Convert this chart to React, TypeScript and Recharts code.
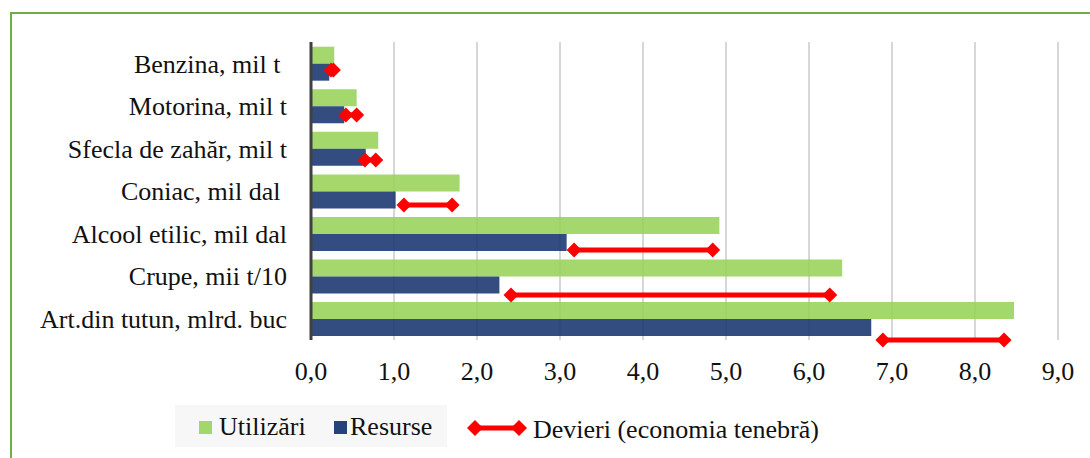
import { ComposedChart, Bar, Scatter, XAxis, YAxis, CartesianGrid } from 'recharts';

const CATEGORIES = [
  'Benzina, mil t\u00a0',
  'Motorina, mil t',
  'Sfecla de zahăr, mil t',
  'Coniac, mil dal\u00a0',
  'Alcool etilic, mil dal',
  'Crupe, mii t/10',
  'Art.din tutun, mlrd. buc',
];
const UTILIZARI = [0.28, 0.55, 0.81, 1.79, 4.92, 6.4, 8.47];
const RESURSE = [0.22, 0.4, 0.66, 1.02, 3.08, 2.27, 6.75];
const DEV_START = [0.24, 0.42, 0.65, 1.12, 3.17, 2.41, 6.89];
const DEV_END = [0.27, 0.55, 0.78, 1.7, 4.84, 6.25, 8.35];
const DEV_POS = [6, 5, 4, 3, 2, 1, 0];
const X_TICKS = [0, 1, 2, 3, 4, 5, 6, 7, 8, 9];

const GREEN = '#97d258';
const BLUE = '#1d3a73';
const RED = '#ff0000';
const FONT = '"Liberation Serif", "Times New Roman", serif';

const rows = CATEGORIES.map((name, i) => ({ name, utilizari: UTILIZARI[i], resurse: RESURSE[i] }));
const segments = CATEGORIES.map((_, i) => [
  { x: DEV_START[i], y: DEV_POS[i] },
  { x: DEV_END[i], y: DEV_POS[i] },
]);

const Diamond = (props: any) => {
  const { cx, cy } = props;
  const r = 7.5;
  return <polygon points={`${cx - r},${cy} ${cx},${cy - r} ${cx + r},${cy} ${cx},${cy + r}`} fill={RED} />;
};

export default function App() {
  return (
    <div style={{ position: 'absolute', left: 0, top: 0, width: 1090, height: 458, background: '#fff', overflow: 'hidden' }}>
      <div style={{ position: 'absolute', left: 10, top: 12, width: 1100, height: 460, borderTop: '2px solid #70ad47', borderLeft: '2px solid #70ad47' }} />
      <div style={{ position: 'absolute', left: 0, top: 0 }}>
        <ComposedChart width={1090} height={458} data={rows} layout="vertical"
          margin={{ top: 42, right: 32, left: 0, bottom: 68 }} barCategoryGap="11%" barGap={0}>
          <CartesianGrid horizontal={false} stroke="#bdbdbd" strokeWidth={1.2} />
          <XAxis type="number" domain={[0, 9]} ticks={X_TICKS} height={50}
            axisLine={false} tickLine={false} tickMargin={16}
            tickFormatter={(v: number) => v.toFixed(1).replace('.', ',')}
            tick={{ fill: '#111', fontSize: 26, fontFamily: FONT }} />
          <YAxis type="category" dataKey="name" width={311} tickLine={false} tickMargin={18}
            axisLine={{ stroke: '#404040', strokeWidth: 3 }}
            tick={{ fill: '#111', fontSize: 26, fontFamily: FONT }} />
          <XAxis xAxisId="s" type="number" dataKey="x" domain={[0, 9]} hide />
          <YAxis yAxisId="s" type="number" dataKey="y" domain={[0, 6.62]} reversed hide />
          <Bar dataKey="utilizari" fill={GREEN} fillOpacity={0.88} isAnimationActive={false} />
          <Bar dataKey="resurse" fill={BLUE} fillOpacity={0.9} isAnimationActive={false} />
          {segments.map((seg, i) => (
            <Scatter key={i} data={seg} xAxisId="s" yAxisId="s" fill={RED}
              line={{ stroke: RED, strokeWidth: 5 }} shape={Diamond} isAnimationActive={false} />
          ))}
        </ComposedChart>
      </div>
      <div style={{ position: 'absolute', left: 175, top: 405, width: 272, height: 42, background: '#f7f7f7' }} />
      <div style={{ position: 'absolute', left: 199, top: 421, width: 13, height: 13, background: '#a2d76a' }} />
      <div style={{ position: 'absolute', left: 219, top: 411, fontFamily: FONT, fontSize: 26, lineHeight: '32px', color: '#111' }}>Utilizări</div>
      <div style={{ position: 'absolute', left: 334, top: 421, width: 13, height: 13, background: '#25427a' }} />
      <div style={{ position: 'absolute', left: 350, top: 411, fontFamily: FONT, fontSize: 26, lineHeight: '32px', color: '#111' }}>Resurse</div>
      <svg style={{ position: 'absolute', left: 466, top: 418 }} width={62} height={20}>
        <line x1={9} y1={10} x2={53} y2={10} stroke={RED} strokeWidth={5} />
        <polygon points="1,10 9,2 17,10 9,18" fill={RED} />
        <polygon points="45,10 53,2 61,10 53,18" fill={RED} />
      </svg>
      <div style={{ position: 'absolute', left: 533, top: 414, fontFamily: FONT, fontSize: 26, lineHeight: '32px', color: '#111' }}>Devieri (economia tenebră)</div>
    </div>
  );
}
